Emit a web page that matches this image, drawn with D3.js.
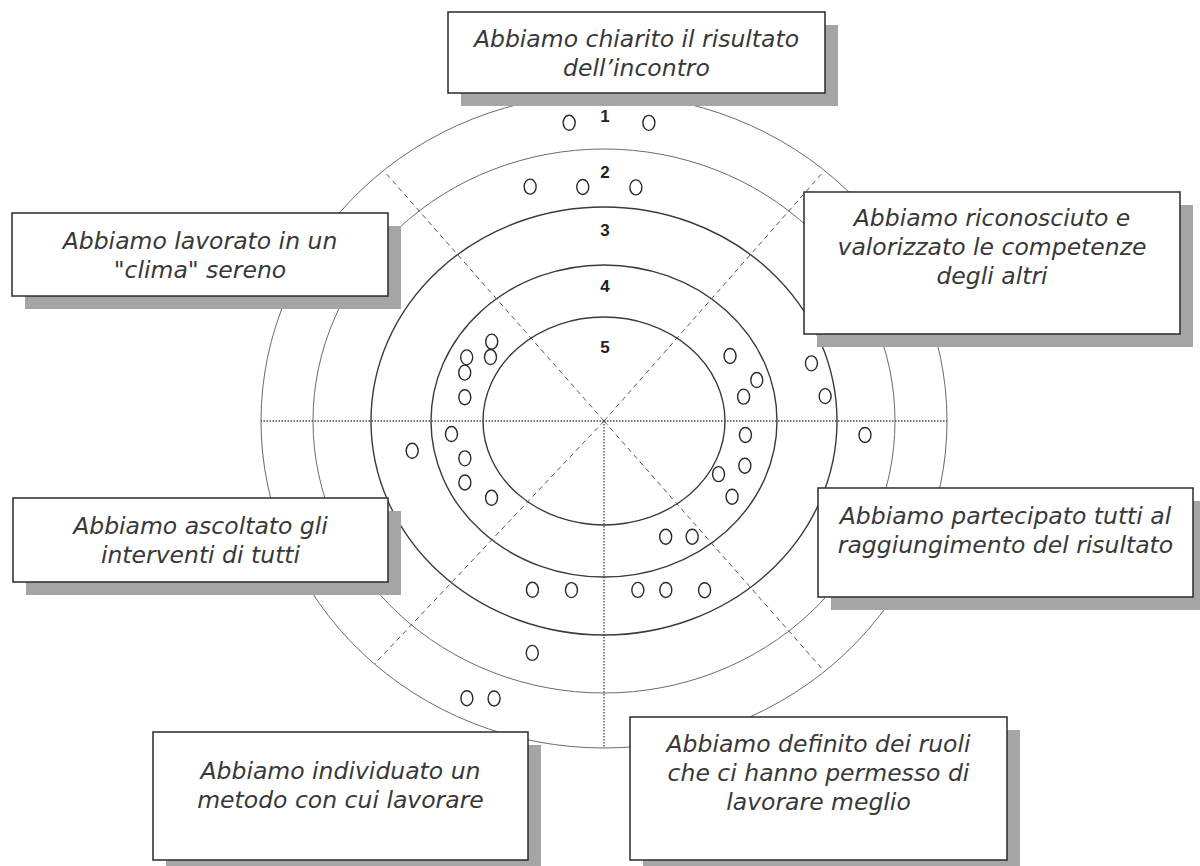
<!DOCTYPE html>
<html>
<head>
<meta charset="utf-8">
<script src="https://cdn.jsdelivr.net/npm/d3@7"></script>
<style>
  html, body { margin: 0; padding: 0; background: #ffffff; }
  svg { display: block; }
</style>
</head>
<body>
<svg id="chart" width="1200" height="866"></svg>
<script>
// -----------------------------
// Data
// -----------------------------
const RATINGS = [1, 2, 3, 4, 5];

// statement shown in each sector (clockwise from the top)
const STATEMENTS = [
  ["Abbiamo chiarito il risultato", "dell’incontro"],
  ["Abbiamo riconosciuto e", "valorizzato le competenze", "degli altri"],
  ["Abbiamo partecipato tutti al", "raggiungimento del risultato"],
  ["Abbiamo definito dei ruoli", "che ci hanno permesso di", "lavorare meglio"],
  ["Abbiamo individuato un", "metodo con cui lavorare"],
  ["Abbiamo ascoltato gli", "interventi di tutti"],
  ["Abbiamo lavorato in un", "\"clima\" sereno"],
];

// sector divider angles, degrees clockwise from the top
const DIVIDERS = [320, 40, 90, 140, 180, 222, 270];
const DIVIDER_STYLE = ["dash", "dash", "dot", "dash", "dot", "dash", "dot"];

// each answer: [rating, angle (deg), position inside ring 0..1]
const chiarito = [[1, -6.3, 0.51], [1, 8.1, 0.53], [2, -16.3, 0.52], [2, -4.8, 0.36], [2, 7.2, 0.37]];
const riconosciuto = [[4, 59.7, 0.48], [4, 73.3, 0.74], [4, 78.8, 0.41], [3, 73.1, 0.73], [3, 83.0, 0.83]];
const partecipato = [[4, 96.4, 0.41], [4, 109.7, 0.55], [4, 118.1, 0.17], [4, 123.6, 0.63], [2, 93.3, 0.49]];
const ruoli = [[3, 169.7, 0.27], [3, 161.6, 0.38], [3, 151.5, 0.63], [4, 154.8, 0.46], [4, 145.8, 0.69]];
const metodo = [[3, -158.9, 0.43], [3, -170.1, 0.27], [2, -164.0, 0.47], [1, -154.9, 0.62], [1, -159.5, 0.44]];
const ascoltato = [[4, -95.5, 0.62], [3, -99.7, 0.36], [4, -106.9, 0.47], [4, -116.4, 0.66], [4, -127.8, 0.41]];
const clima = [[4, -51.3, 0.44], [4, -57.2, 0.27], [4, -62.5, 0.65], [4, -68.6, 0.55], [4, -79.0, 0.4]];

const ANSWERS = [chiarito, riconosciuto, partecipato, ruoli, metodo, ascoltato, clima];

// -----------------------------
// Layout
// -----------------------------
const svg = d3.select("#chart");
const CX = 604;
const CY = 421;

// ellipse radii for each ring boundary (level 0 = centre, 5 = outer ring)
const levelRx = d3.scaleLinear().domain([0, 1, 2, 3, 4, 5]).range([0, 121, 173, 233, 291, 343]);
const levelRy = d3.scaleLinear().domain([0, 1, 2, 3, 4, 5]).range([0, 104, 156, 214, 272, 327]);
// rating -> level of the ring's inner edge
const ratingLevel = d3.scaleLinear().domain([5, 1]).range([0, 4]);

function point(angle, level) {
  const a = (angle * Math.PI) / 180;
  return [CX + levelRx(level) * Math.sin(a), CY - levelRy(level) * Math.cos(a)];
}

// boxes: x, y, w, h, first baseline
const BOXES = [
  [448, 12, 377, 81, 47],
  [804, 192, 376, 142, 226],
  [818, 488, 375, 109, 524],
  [630, 717, 377, 143, 752],
  [153, 732, 375, 128, 779],
  [13, 498, 375, 84, 534],
  [12, 213, 376, 83, 249],
];

svg.append("rect").attr("width", 1200).attr("height", 866).attr("fill", "#ffffff");

// -----------------------------
// Rings
// -----------------------------
svg
  .append("g")
  .selectAll("ellipse")
  .data([5, 4, 3, 2, 1])
  .join("ellipse")
  .attr("cx", CX)
  .attr("cy", CY)
  .attr("rx", (l) => levelRx(l))
  .attr("ry", (l) => levelRy(l))
  .attr("fill", "none")
  .attr("stroke", (l) => (l >= 4 ? "#6a6a6a" : "#3a3a3a"))
  .attr("stroke-width", (l) => (l >= 4 ? 1 : 1.4));

// -----------------------------
// Sector dividers
// -----------------------------
svg
  .append("g")
  .selectAll("line")
  .data(DIVIDERS.map((a, i) => ({ angle: a, style: DIVIDER_STYLE[i] })))
  .join("line")
  .attr("x1", CX)
  .attr("y1", CY)
  .attr("x2", (d) => point(d.angle, 5)[0])
  .attr("y2", (d) => point(d.angle, 5)[1])
  .attr("stroke", (d) => (d.style === "dot" ? "#444" : "#555"))
  .attr("stroke-width", (d) => (d.style === "dot" ? 1.3 : 1))
  .attr("stroke-dasharray", (d) => (d.style === "dot" ? "1.5,1.5" : "5,4"));

// -----------------------------
// Answers
// -----------------------------
const answers = ANSWERS.flatMap((list) =>
  list.map(([rating, angle, pos]) => ({ rating, angle, pos })),
);

svg
  .append("g")
  .selectAll("ellipse")
  .data(answers)
  .join("ellipse")
  .attr("cx", (d) => point(d.angle, ratingLevel(d.rating) + d.pos)[0])
  .attr("cy", (d) => point(d.angle, ratingLevel(d.rating) + d.pos)[1])
  .attr("rx", 6)
  .attr("ry", 7.5)
  .attr("fill", "#ffffff")
  .attr("stroke", "#2a2a2a")
  .attr("stroke-width", 1.4);

// ring numbers
svg
  .append("g")
  .selectAll("text")
  .data(RATINGS)
  .join("text")
  .attr("x", CX + 1)
  .attr("y", (r) => point(0, ratingLevel(r) + (r === 5 ? 0.7 : 0.57))[1])
  .attr("text-anchor", "middle")
  .attr("dominant-baseline", "middle")
  .style("font-family", "'Liberation Sans', Arial, sans-serif")
  .style("font-weight", "700")
  .style("font-size", "17px")
  .style("fill", "#222")
  .text((r) => r);

// -----------------------------
// Statement boxes
// -----------------------------
const boxG = svg
  .append("g")
  .selectAll("g")
  .data(STATEMENTS.map((lines, i) => ({ lines, box: BOXES[i] })))
  .join("g");

boxG
  .append("rect")
  .attr("x", (d) => d.box[0] + 13)
  .attr("y", (d) => d.box[1] + 13)
  .attr("width", (d) => d.box[2])
  .attr("height", (d) => d.box[3])
  .attr("fill", "#a5a5a5");

boxG
  .append("rect")
  .attr("x", (d) => d.box[0])
  .attr("y", (d) => d.box[1])
  .attr("width", (d) => d.box[2])
  .attr("height", (d) => d.box[3])
  .attr("fill", "#ffffff")
  .attr("stroke", "#2a2a2a")
  .attr("stroke-width", 1.5);

boxG
  .selectAll("text")
  .data((d) => d.lines.map((t, j) => ({ t, j, box: d.box })))
  .join("text")
  .attr("x", (d) => d.box[0] + d.box[2] / 2)
  .attr("y", (d) => d.box[4] + d.j * 29)
  .attr("text-anchor", "middle")
  .style("font-family", "'DejaVu Sans', sans-serif")
  .style("font-style", "oblique")
  .style("font-size", "23.5px")
  .style("fill", "#383838")
  .text((d) => d.t);
</script>
</body>
</html>
